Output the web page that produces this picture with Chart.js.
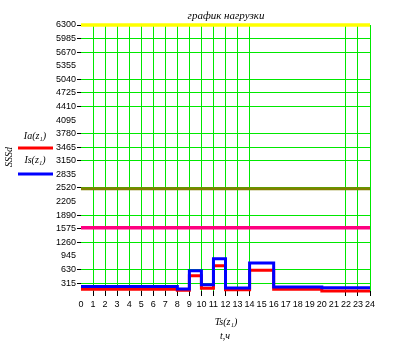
<!DOCTYPE html>
<html>
<head>
<meta charset="utf-8">
<script src="https://cdn.jsdelivr.net/npm/chart.js@4"></script>
<style>
  html, body { margin: 0; padding: 0; background: #fff; }
</style>
</head>
<body>
<canvas id="loadChart" width="420" height="351"></canvas>
<script>
// hour marks on the time axis
const hours = [0, 1, 2, 3, 4, 5, 6, 7, 8, 9, 10, 11, 12, 13, 14, 15, 16, 17, 18, 19, 20, 21, 22, 23, 24];
// one value per hour slot, last one repeated to close the step at 24
const redLoad  = [171, 171, 171, 171, 171, 171, 171, 171, 148, 484, 195, 716, 160, 160, 612, 612, 170, 170, 170, 170, 132, 132, 132, 132, 132];
const blueLoad = [234, 234, 234, 234, 234, 234, 234, 234, 176, 600, 276, 878, 200, 200, 778, 778, 225, 225, 225, 225, 206, 206, 206, 206, 206];
// horizontal limit lines
const limitYellow = 6300;
const limitOlive = 2500;
const limitPink = 1600;
// axis ticks and which of them carry a grid line
const yTicks = [315, 630, 945, 1260, 1575, 1890, 2205, 2520, 2835, 3150, 3465, 3780, 4095, 4410, 4725, 5040, 5355, 5670, 5985, 6300];
const yNoGrid = [945, 2205, 2835, 4095, 5355];
const xGrid = [1, 2, 3, 4, 5, 6, 7, 8, 9, 10, 11, 12, 13, 14, 22, 23, 24];

const GREEN = 'rgb(0,232,0)';
const pts = vals => hours.map((h, i) => ({ x: h, y: vals[i] }));
const flat = v => [{ x: 0, y: v }, { x: 24, y: v }];

const lineSet = (data, color, width, stepped) => ({
    data, borderColor: color, borderWidth: width, stepped,
    pointRadius: 0, fill: false, clip: 6
});

// plain text annotations drawn on top (title, legend, axis names)
const annotations = {
    id: 'annotations',
    afterDraw(chart) {
        const c = chart.ctx;
        c.save();
        c.fillStyle = '#000';
        c.textAlign = 'center';
        c.textBaseline = 'middle';
        c.font = 'italic 11px "Liberation Serif"';
        c.fillText('график нагрузки', 226, 16);

        c.font = 'italic 10px "Liberation Serif"';
        c.fillText('Ia(z₁)', 35, 136);
        c.fillText('Is(z₁)', 35, 160);
        c.fillText('Ts(z₁)', 226, 322);
        c.fillText('t,ч', 225, 336);

        c.save();
        c.translate(9, 157);
        c.rotate(-Math.PI / 2);
        c.fillText('SSSd', 0, 0);
        c.restore();

        // legend swatches
        c.lineWidth = 3;
        c.strokeStyle = '#ff0000';
        c.beginPath(); c.moveTo(18, 148); c.lineTo(53, 148); c.stroke();
        c.strokeStyle = '#0000ff';
        c.beginPath(); c.moveTo(18, 174); c.lineTo(53, 174); c.stroke();
        c.restore();
    }
};

new Chart(document.getElementById('loadChart').getContext('2d'), {
    type: 'line',
    data: {
        datasets: [
            lineSet(pts(blueLoad), '#0000ff', 3, 'before'),
            lineSet(pts(redLoad), '#ff0000', 3, 'before'),
            lineSet(flat(limitYellow), '#ffff00', 3.5, false),
            lineSet(flat(limitOlive), '#808000', 3, false),
            lineSet(flat(limitPink), '#ff0080', 3.5, false)
        ]
    },
    options: {
        responsive: false,
        animation: false,
        devicePixelRatio: 1,
        layout: { padding: { top: 25, right: 50, left: 0, bottom: 0 } },
        plugins: { legend: { display: false }, tooltip: { enabled: false } },
        scales: {
            x: {
                type: 'linear', min: 0, max: 24,
                afterFit: s => { s.height = 60; },
                border: { display: false },
                grid: {
                    color: ctx => xGrid.includes(ctx.tick.value) ? GREEN : 'rgba(0,0,0,0)',
                    tickColor: ctx => xGrid.includes(ctx.tick.value) ? '#000' : 'rgba(0,0,0,0)',
                    tickLength: 5, lineWidth: 1
                },
                ticks: {
                    stepSize: 1, autoSkip: false, maxRotation: 0, padding: 3,
                    color: '#000', font: { family: 'Liberation Sans', size: 9 }
                }
            },
            y: {
                type: 'linear', min: 130, max: 6300,
                afterBuildTicks: s => { s.ticks = yTicks.map(v => ({ value: v })); },
                afterFit: s => { s.width = 81; },
                border: { display: false },
                grid: {
                    color: ctx => yNoGrid.includes(ctx.tick.value) ? 'rgba(0,0,0,0)' : GREEN,
                    tickColor: ctx => yNoGrid.includes(ctx.tick.value) ? 'rgba(0,0,0,0)' : '#000',
                    tickLength: 4, lineWidth: 1
                },
                ticks: {
                    padding: 1, color: '#000',
                    font: { family: 'Liberation Sans', size: 9 },
                    callback: v => String(v)
                }
            }
        }
    },
    plugins: [annotations]
});
</script>
</body>
</html>
